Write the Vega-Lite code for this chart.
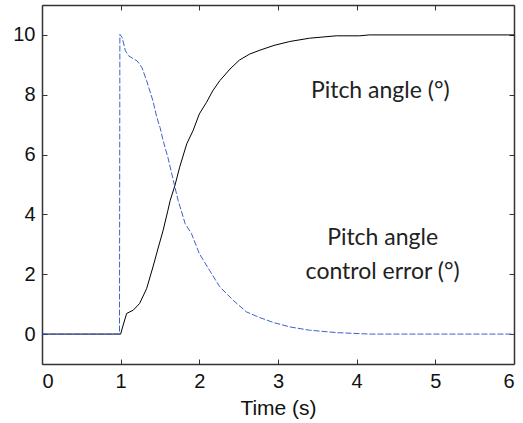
{
  "$schema": "https://vega.github.io/schema/vega-lite/v6.json",
  "width": 472,
  "height": 359,
  "autosize": {"type": "none"},
  "padding": {"left": 42, "top": 5, "right": 9, "bottom": 59},
  "background": "white",
  "config": {
    "view": {"stroke": null},
    "axis": {
      "grid": false,
      "domainColor": "#333333",
      "domainWidth": 1.5,
      "tickColor": "#333333",
      "tickWidth": 1,
      "tickSize": -5,
      "labelFont": "Liberation Sans",
      "labelFontSize": 20,
      "labelColor": "#111111",
      "titleFont": "Liberation Sans",
      "titleFontSize": 21,
      "titleFontWeight": "normal",
      "titleColor": "#111111"
    }
  },
  "datasets": {
    "angle": [
      {"t": 0, "v": 0},
      {"t": 1.0, "v": 0},
      {"t": 1.025, "v": 0.24},
      {"t": 1.076, "v": 0.69},
      {"t": 1.16, "v": 0.8},
      {"t": 1.24, "v": 1.02},
      {"t": 1.33, "v": 1.52},
      {"t": 1.41, "v": 2.24},
      {"t": 1.48, "v": 2.91},
      {"t": 1.54, "v": 3.47},
      {"t": 1.6, "v": 4.13},
      {"t": 1.63, "v": 4.47},
      {"t": 1.69, "v": 4.97},
      {"t": 1.75, "v": 5.58},
      {"t": 1.84, "v": 6.36},
      {"t": 1.92, "v": 6.8},
      {"t": 2.0, "v": 7.36},
      {"t": 2.09, "v": 7.74},
      {"t": 2.17, "v": 8.13},
      {"t": 2.26, "v": 8.47},
      {"t": 2.39, "v": 8.86},
      {"t": 2.51, "v": 9.16},
      {"t": 2.64, "v": 9.36},
      {"t": 2.77, "v": 9.49},
      {"t": 2.95, "v": 9.65},
      {"t": 3.15, "v": 9.78},
      {"t": 3.4, "v": 9.89},
      {"t": 3.74, "v": 9.97},
      {"t": 4.04, "v": 9.97},
      {"t": 4.16, "v": 10},
      {"t": 6, "v": 10}
    ],
    "error": [
      {"t": 0, "v": 0},
      {"t": 0.985, "v": 0},
      {"t": 0.99, "v": 10.02},
      {"t": 1.02, "v": 9.91},
      {"t": 1.06, "v": 9.47},
      {"t": 1.1, "v": 9.3},
      {"t": 1.21, "v": 9.13},
      {"t": 1.27, "v": 8.91},
      {"t": 1.33, "v": 8.47},
      {"t": 1.41, "v": 7.8},
      {"t": 1.46, "v": 7.24},
      {"t": 1.5, "v": 6.91},
      {"t": 1.54, "v": 6.47},
      {"t": 1.6, "v": 5.91},
      {"t": 1.67, "v": 5.13},
      {"t": 1.73, "v": 4.47},
      {"t": 1.82, "v": 3.69},
      {"t": 1.9, "v": 3.36},
      {"t": 2.0, "v": 2.69},
      {"t": 2.13, "v": 2.13},
      {"t": 2.26, "v": 1.58},
      {"t": 2.43, "v": 1.13},
      {"t": 2.6, "v": 0.74},
      {"t": 2.77, "v": 0.55},
      {"t": 2.95, "v": 0.38},
      {"t": 3.15, "v": 0.24},
      {"t": 3.4, "v": 0.13},
      {"t": 3.74, "v": 0.05},
      {"t": 4.16, "v": 0},
      {"t": 6, "v": 0}
    ],
    "labels": [
      {"t": 4.3, "v": 8.13, "label": "Pitch angle (°)"},
      {"t": 4.33, "v": 3.2, "label": "Pitch angle"},
      {"t": 4.33, "v": 2.07, "label": "control error (°)"}
    ]
  },
  "layer": [
    {
      "data": {"name": "angle"},
      "mark": {"type": "line", "color": "#000000", "strokeWidth": 1},
      "encoding": {
        "x": {
          "field": "t", "type": "quantitative",
          "scale": {"domain": [0, 6], "nice": false, "zero": false},
          "axis": {"orient": "bottom", "values": [0, 1, 2, 3, 4, 5, 6], "title": "Time (s)", "labelPadding": 12, "titlePadding": 6}
        },
        "y": {
          "field": "v", "type": "quantitative",
          "scale": {"domain": [-1, 11], "nice": false, "zero": false},
          "axis": {"orient": "left", "values": [0, 2, 4, 6, 8, 10], "title": null, "labelPadding": 12}
        }
      }
    },
    {
      "data": {"name": "error"},
      "mark": {"type": "line", "color": "#3f62c8", "strokeWidth": 1, "strokeDash": [6, 2]},
      "encoding": {
        "x": {
          "field": "t", "type": "quantitative",
          "axis": {"orient": "top", "values": [0, 1, 2, 3, 4, 5, 6], "labels": false, "title": null}
        },
        "y": {
          "field": "v", "type": "quantitative",
          "axis": {"orient": "right", "values": [0, 2, 4, 6, 8, 10], "labels": false, "title": null}
        }
      }
    },
    {
      "data": {"name": "labels"},
      "mark": {"type": "text", "font": "Lato", "fontSize": 23, "color": "#222222", "align": "center", "baseline": "middle"},
      "encoding": {
        "x": {"field": "t", "type": "quantitative", "axis": null},
        "y": {"field": "v", "type": "quantitative", "axis": null},
        "text": {"field": "label"}
      }
    }
  ],
  "resolve": {"axis": {"x": "independent", "y": "independent"}}
}
